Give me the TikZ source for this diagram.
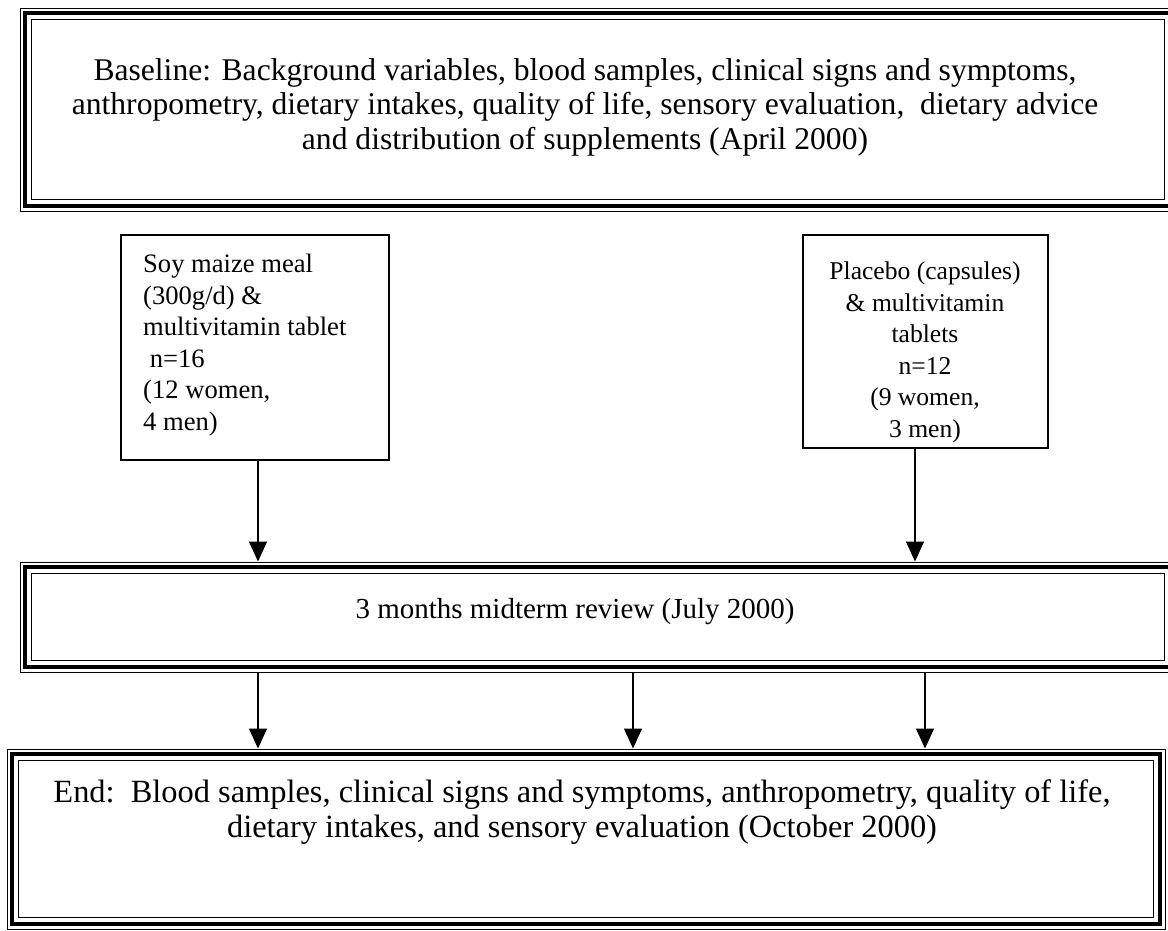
\documentclass[tikz,border=0pt]{standalone}
\usepackage{fontspec}
\setmainfont{Liberation Serif}
\usetikzlibrary{arrows.meta,calc}
\tikzset{
  frame/.style={draw, line width=1pt, inner sep=0pt},
  txt/.style={align=center, inner sep=0pt, font=\fontsize{29}{35}\selectfont},
  bigtxt/.style={align=center, inner sep=0pt, font=\fontsize{31.6}{34.8}\selectfont},
  smalltxt/.style={inner sep=0pt, font=\fontsize{26.6}{31.5}\selectfont},
  grp/.style={draw, line width=1.3pt, inner sep=0pt},
  arr/.style={line width=1.3pt, -{Triangle[width=18pt,length=20pt]}},
}
\newcommand\tripleframe[1]{%
  \draw[line width=4.5pt] ([xshift=5.5pt,yshift=-5.5pt]#1.north west) rectangle ([xshift=-5.5pt,yshift=5.5pt]#1.south east);
  \draw[line width=1.3pt] ([xshift=12pt,yshift=-12pt]#1.north west) rectangle ([xshift=-12pt,yshift=12pt]#1.south east);}
\begin{document}
\begin{tikzpicture}[x=1pt,y=-1pt]
\useasboundingbox[fill=white] (0,0) rectangle (1168,930);
% top frame
\node[frame, minimum width=1156pt, minimum height=203pt] (top) at (598,109.5) {};
\tripleframe{top}
\node[bigtxt, anchor=north] (toptxt) at (585,58) {Baseline: Background variables, blood samples, clinical signs and symptoms,\\anthropometry, dietary intakes, quality of life, sensory evaluation,\ \ dietary advice\\and distribution of supplements (April 2000)};
% group boxes
\node[grp, minimum width=268pt, minimum height=225pt] (soy) at (255,347.5) {};
\node[smalltxt, align=left, anchor=north west] (soytxt) at (143,254) {Soy maize meal\\(300g/d) \&\\multivitamin tablet\\\ n=16\\(12 women,\\4 men)};
\node[grp, minimum width=245pt, minimum height=213pt] (plac) at (925.5,341.5) {};
\node[smalltxt, font=\fontsize{25.6}{31.5}\selectfont, align=center, anchor=north] (plactxt) at (925,262) {Placebo (capsules)\\\& multivitamin\\tablets\\n=12\\(9 women,\\3 men)};
% midterm frame
\node[frame, minimum width=1156pt, minimum height=110pt] (mid) at (598,617) {};
\tripleframe{mid}
\node[txt] (midtxt) at (575,612) {3 months midterm review (July 2000)};
% end frame
\node[frame, minimum width=1158pt, minimum height=180pt] (end) at (586,839) {};
\tripleframe{end}
\node[bigtxt, font=\fontsize{32.4}{35}\selectfont, anchor=north] (endtxt) at (582,779) {End:\ \ Blood samples, clinical signs and symptoms, anthropometry, quality of life,\\dietary intakes, and sensory evaluation (October 2000)};
% arrows
\draw[arr] (soy.south -| 258,0) -- (mid.north -| 258,0);
\draw[arr] (plac.south -| 915,0) -- (mid.north -| 915,0);
\draw[arr] (mid.south -| 258,0) -- (end.north -| 258,0);
\draw[arr] (mid.south -| 633,0) -- (end.north -| 633,0);
\draw[arr] (mid.south -| 925,0) -- (end.north -| 925,0);
\end{tikzpicture}
\end{document}
